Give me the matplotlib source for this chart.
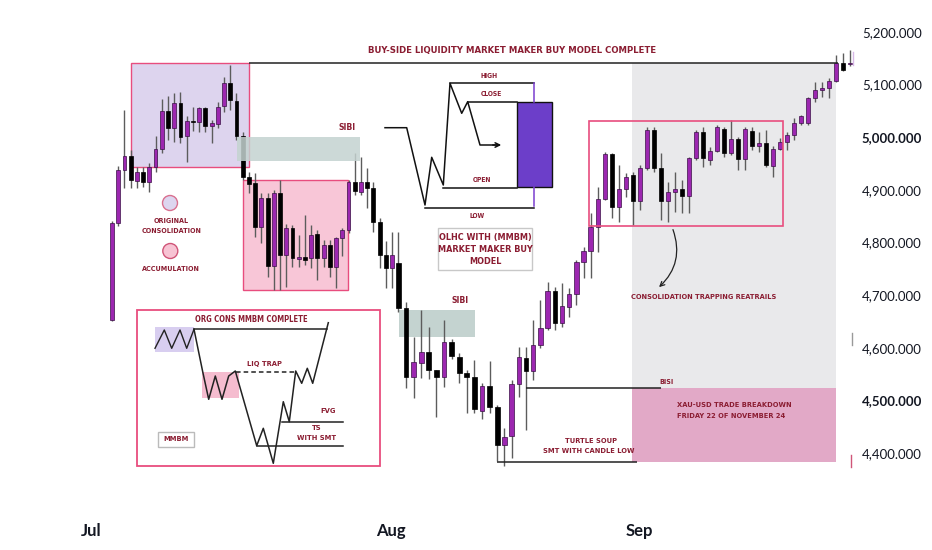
import os
import numpy as np
import matplotlib
matplotlib.use("Agg")
import matplotlib.pyplot as plt
from matplotlib import font_manager as fm
from matplotlib.patches import Rectangle, Circle, FancyArrowPatch
from matplotlib.ticker import NullLocator

# ---------------- data ----------------
opens = [4653, 4837, 4938, 4964, 4917, 4934, 4915, 4944, 4978, 5050,
         5018, 5065, 5002, 5031, 5029, 5056, 5021, 5025, 5059, 5103,
         5069, 5002, 4925, 4913, 4830, 4885, 4755, 4894, 4776, 4828,
         4769, 4773, 4771, 4816, 4771, 4795, 4753, 4809, 4824, 4915,
         4896, 4915, 4904, 4839, 4776, 4752, 4761, 4676, 4544, 4571,
         4592, 4558, 4544, 4611, 4583, 4552, 4544, 4480, 4527, 4488,
         4415, 4432, 4531, 4581, 4556, 4605, 4638, 4708, 4647, 4678,
         4702, 4763, 4784, 4830, 4883, 4968, 4868, 4902, 4928, 4879,
         4942, 5014, 4942, 4879, 4896, 4902, 4888, 4961, 5010, 4957,
         4974, 5016, 4970, 4997, 4959, 5012, 4983, 4989, 4945, 4978,
         4991, 5004, 5027, 5027, 5075, 5090, 5094, 5107, 5141, 5139]
highs = [4840, 4945, 5052, 4976, 4944, 4944, 4951, 5002, 5073, 5078,
         5084, 5086, 5040, 5058, 5058, 5058, 5033, 5067, 5115, 5137,
         5084, 5010, 4934, 4932, 4894, 4894, 4900, 4919, 4835, 4833,
         4814, 4852, 4833, 4824, 4805, 4805, 4811, 4828, 4919, 4970,
         4963, 4942, 4915, 4847, 4803, 4820, 4820, 4687, 4620, 4672,
         4640, 4558, 4653, 4617, 4590, 4558, 4577, 4533, 4575, 4491,
         4448, 4539, 4601, 4601, 4653, 4691, 4725, 4716, 4723, 4714,
         4767, 4791, 4856, 4906, 4972, 4970, 4947, 4932, 4934, 4947,
         5020, 5020, 4970, 4915, 4934, 4919, 4963, 5014, 5020, 4982,
         5023, 5020, 5033, 5001, 5020, 5020, 5010, 5014, 4983, 4999,
         5010, 5037, 5042, 5077, 5105, 5105, 5113, 5156, 5160, 5166]
lows = [4650, 4832, 4904, 4904, 4904, 4906, 4896, 4934, 4970, 4995,
        4991, 4989, 4953, 5012, 5010, 5010, 4989, 5018, 5048, 5052,
        4995, 4919, 4894, 4811, 4799, 4735, 4710, 4710, 4716, 4753,
        4753, 4757, 4752, 4729, 4753, 4735, 4714, 4774, 4818, 4890,
        4890, 4866, 4820, 4752, 4714, 4714, 4668, 4523, 4505, 4543,
        4541, 4468, 4525, 4579, 4533, 4476, 4476, 4465, 4476, 4385,
        4375, 4391, 4506, 4444, 4539, 4600, 4634, 4634, 4640, 4659,
        4681, 4733, 4733, 4782, 4881, 4847, 4839, 4887, 4833, 4862,
        4938, 4934, 4843, 4839, 4858, 4856, 4856, 4957, 4944, 4947,
        4972, 4963, 4966, 4938, 4938, 4976, 4972, 4944, 4925, 4976,
        4976, 4995, 5023, 5023, 5067, 5077, 5075, 5105, 5126, 5135]
closes = [4837, 4938, 4964, 4919, 4934, 4915, 4944, 4978, 5050, 5018,
          5065, 5001, 5031, 5029, 5056, 5021, 5027, 5058, 5103, 5071,
          5002, 4925, 4911, 4830, 4885, 4755, 4894, 4776, 4828, 4771,
          4773, 4767, 4814, 4771, 4795, 4753, 4809, 4824, 4915, 4898,
          4915, 4904, 4839, 4776, 4752, 4776, 4676, 4544, 4573, 4592,
          4558, 4544, 4611, 4584, 4552, 4544, 4484, 4527, 4488, 4415,
          4430, 4531, 4583, 4556, 4605, 4638, 4708, 4647, 4679, 4702,
          4763, 4784, 4830, 4883, 4968, 4868, 4902, 4925, 4879, 4942,
          5014, 4942, 4879, 4896, 4902, 4888, 4961, 5010, 4961, 4974,
          5020, 4970, 4997, 4959, 5016, 4983, 4989, 4947, 4978, 4991,
          5004, 5027, 5040, 5075, 5090, 5094, 5107, 5141, 5128, 5141]
price_ticks = [4400, 4500, 4600, 4700, 4800, 4900, 5000, 5100, 5200]
bold_ticks = [4500, 5000]
month_labels = ["Jul", "Aug", "Sep"]
month_pos = [-3.4, 44.8, 79.0]   # candle index where the month label sits

# ---------------- fonts ----------------
def find_font(keys):
    files = [f.fname for f in fm.fontManager.ttflist]
    for key in keys:
        for fn in files:
            b = os.path.basename(fn).lower().replace(" ", "").replace("_", "").replace("-", "")
            if key in b:
                return fn
    return None

cond_file = find_font(["dejavusanscondensedbold", "liberationsansnarrowbold",
                       "robotocondensedbold", "notosanscondensedbold",
                       "opensanscondensedbold", "notosanssemicondensedbold"])

def cfont(size):
    if cond_file:
        return fm.FontProperties(fname=cond_file, size=size)
    return fm.FontProperties(family="DejaVu Sans", weight="bold", size=size)

RED = "#8b1d32"
PURPLE = "#9c27b0"
PINK_EDGE = "#e84d7e"

# ---------------- x scale (the screenshot is not evenly spaced) ----------------
anchor_idx = np.array([-100.0, 0.0, 46.0, 59.0, 72.0, 108.0, 300.0])
anchor_px = np.array([112.0 - 622.5, 112.0, 398.3, 497.3, 590.7, 842.7, 842.7 + 1344.0])

def fwd(v):
    return np.interp(v, anchor_idx, anchor_px)

def inv(v):
    return np.interp(v, anchor_px, anchor_idx)

fig = plt.figure(figsize=(9.32, 5.5), dpi=100)
fig.patch.set_facecolor("white")
ax = fig.add_axes([0, 45 / 550, 855 / 932, 505 / 550])
ax.set_xscale("function", functions=(fwd, inv))
ax.set_xlim(inv(0.0), inv(855.0))
ax.set_ylim(4301.2, 5260.8)
for s in ax.spines.values():
    s.set_visible(False)

o = np.array(opens, float)
h = np.array(highs, float)
l = np.array(lows, float)
c = np.array(closes, float)
x = np.arange(len(o))
up = c >= o

# background zones (data coords)
ax.add_patch(Rectangle((3.05, 4943.5), 22.0 - 3.05, 5141.1 - 4943.5,
                       facecolor="#ddd4ee", edgecolor=PINK_EDGE, lw=1.0, zorder=1))
ax.add_patch(Rectangle((21.08, 4709.8), 37.95 - 21.08, 4918.8 - 4709.8,
                       facecolor="#f8c6d7", edgecolor=PINK_EDGE, lw=1.0, zorder=1))
ax.add_patch(Rectangle((77.86, 4523.0), 107.04 - 77.86, 5141.1 - 4523.0,
                       facecolor="#e9e9eb", edgecolor="none", zorder=0.5))
ax.add_patch(Rectangle((77.86, 4382.4), 107.04 - 77.86, 4523.0 - 4382.4,
                       facecolor="#e2a9c7", edgecolor="none", zorder=0.6))
ax.add_patch(Rectangle((46.1, 4619.9), 56.04 - 46.1, 4671.8 - 4619.9,
                       facecolor="#c4d3d0", edgecolor="none", zorder=1.5))

# candles
ax.vlines(x, l, h, color="#5c5c5c", lw=1.0, zorder=3)
body_lo = np.minimum(o, c)
body_h = np.maximum(np.abs(c - o), 2.5)
ax.bar(x, body_h, bottom=body_lo, width=0.62,
       color=np.where(up, PURPLE, "#000000"),
       edgecolor=np.where(up, "#3a1046", "#000000"), linewidth=0.5, zorder=4)

# overlays tied to price levels
ax.add_patch(Rectangle((20.05, 4954.9), 39.8 - 20.05, 5000.5 - 4954.9,
                       facecolor="#c4d3d0", edgecolor="none", alpha=0.85, zorder=5))
ax.add_patch(Rectangle((71.76, 4831.9), 99.51 - 71.76, 5030.9 - 4831.9,
                       facecolor="none", edgecolor=PINK_EDGE, lw=1.2, zorder=5))
ax.hlines(5141.1, 22.0, 107.3, color="#222222", lw=1.1, zorder=5)
ax.hlines(4383.5, 59.0, 78.57, color="#222222", lw=1.1, zorder=5)
ax.hlines(4523.0, 63.0, 82.04, color="#222222", lw=1.1, zorder=5)

# axes ticks
ax.yaxis.tick_right()
ax.set_yticks(price_ticks, labels=[f"{v:,.3f}" for v in price_ticks])
ax.tick_params(axis="y", length=0, pad=5, labelsize=9.5, labelcolor="#131722")
for lab, v in zip(ax.get_yticklabels(), price_ticks):
    lab.set_fontfamily("Lato")
    if v in bold_ticks:
        lab.set_fontweight("bold")
ax.set_xticks(month_pos, labels=month_labels)
ax.xaxis.set_minor_locator(NullLocator())
ax.tick_params(axis="x", length=0, pad=13, labelsize=12, labelcolor="#131722")
for lab in ax.get_xticklabels():
    lab.set_fontfamily("Lato")
    lab.set_fontweight("bold")

# ---------------- annotation layer (pixel coords) ----------------
ov = fig.add_axes([0, 0, 1, 1], zorder=5)
ov.set_xlim(0, 932)
ov.set_ylim(550, 0)
ov.axis("off")
ov.patch.set_alpha(0)

def t(xx, yy, s, size, ha="center", va="center", color=RED):
    ov.text(xx, yy, s, fontproperties=cfont(size), color=color, ha=ha, va=va)

t(512.5, 51, "BUY-SIDE LIQUIDITY MARKET MAKER BUY MODEL COMPLETE", 6.8)
t(347, 127, "SIBI", 6.2)
t(460, 300.5, "SIBI", 6.2)

# legend circles
ov.add_patch(Circle((170, 203), 7.5, facecolor="#ddd5ef", edgecolor="#d9708f", lw=1))
ov.add_patch(Circle((170.3, 251), 7.5, facecolor="#f7c3d3", edgecolor="#d05578", lw=1))
t(171.5, 221, "ORIGINAL", 5.1)
t(171.5, 231, "CONSOLIDATION", 5.1)
t(171, 269, "ACCUMULATION", 5.1)

# OLHC schematic
px_ = [385, 406.7, 425, 431.7, 443.3, 450, 461.7, 467.7, 480, 498]
py_ = [127.7, 127.7, 205, 157.3, 185, 83.3, 113.3, 101.7, 145, 145]
ov.plot(px_, py_, color="#111111", lw=1.1)
ov.add_patch(FancyArrowPatch((490, 145), (504, 145), arrowstyle="->", mutation_scale=8,
                             color="#111111", lw=1.1))
ov.plot([450, 534.3], [83.3, 83.3], color="#111111", lw=1.1)
ov.plot([467.7, 517.3], [101.7, 101.7], color="#111111", lw=1.1)
ov.plot([443.3, 517.3], [188.3, 188.3], color="#111111", lw=1.1)
ov.plot([425, 534.3], [208.3, 208.3], color="#111111", lw=1.1)
ov.plot([534.3, 534.3], [83.3, 102.3], color="#7b3fd0", lw=1.1)
ov.plot([534.3, 534.3], [186.7, 206], color="#7b3fd0", lw=1.1)
ov.add_patch(Rectangle((517.3, 102.3), 35, 84.4, facecolor="#6c3ec9", edgecolor="#111111", lw=1))
t(489.3, 75.7, "HIGH", 4.9)
t(491, 94.5, "CLOSE", 4.9)
t(481.7, 180, "OPEN", 4.9)
t(476.7, 215.5, "LOW", 4.9)
ov.add_patch(Rectangle((438.3, 228.3), 94, 41.7, facecolor="white", edgecolor="#c8c8c8", lw=1))
t(485, 237.3, "OLHC WITH (MMBM)", 6.5)
t(485, 249.3, "MARKET MAKER BUY", 6.5)
t(485, 262.0, "MODEL", 6.5)

# MMBM inset
ov.add_patch(Rectangle((136.7, 310), 243.3, 156, facecolor="white", edgecolor=PINK_EDGE, lw=1.3))
t(251, 320, "ORG CONS MMBM COMPLETE", 5.5)
ov.add_patch(Rectangle((155, 326.7), 39, 25, facecolor="#d8cef0", edgecolor="none"))
ov.add_patch(Rectangle((201.7, 371.7), 37.6, 26.6, facecolor="#f5bccf", edgecolor="none"))
ov.plot([155, 164.3, 171.7, 180, 186.7, 194], [348.3, 330, 348.3, 330, 348.3, 329.3],
        color="#222222", lw=1)
ov.plot([194, 326.7], [329.3, 329.3], color="#222222", lw=1.1)
mx = [194, 202.7, 208.7, 215.3, 222, 228.7, 235.3, 256.7, 263.3, 273.3, 283.3, 289.3,
      295.7, 301.7, 307.3, 312.7, 328.3]
my = [329.3, 371.7, 399.3, 376, 399.3, 376, 371, 445.7, 428.3, 463.3, 401.7, 421.7,
      371, 383.3, 368.3, 383.3, 322.7]
ov.plot(mx, my, color="#222222", lw=1.1)
ov.plot([236, 295.7], [371.7, 371.7], color="#222222", lw=1.1, ls=(0, (3, 2)))
t(264.3, 364, "LIQ TRAP", 5.4)
ov.plot([281.7, 343.3], [421.7, 421.7], color="#222222", lw=1.1)
t(328.3, 410.7, "FVG", 5.4)
ov.plot([256.7, 343.3], [445.7, 445.7], color="#222222", lw=1.1)
t(316.7, 427.7, "TS", 5.4)
t(316.7, 438.3, "WITH SMT", 5.4)
ov.add_patch(Rectangle((158.3, 431.7), 35.7, 15, facecolor="white", edgecolor="#bbbbbb", lw=1))
t(176, 439.2, "MMBM", 5.4)

# right side labels
ov.add_patch(FancyArrowPatch((672, 227), (657, 289), connectionstyle="arc3,rad=-0.35",
                             arrowstyle="->", mutation_scale=8, color="#222222", lw=0.9))
t(704, 297, "CONSOLIDATION TRAPPING REATRAILS", 5.3)
t(666, 381.5, "BISI", 5.0)
t(677.3, 405, "XAU-USD TRADE BREAKDOWN", 5.4, ha="left")
t(677.3, 415.5, "FRIDAY 22 OF NOVEMBER 24", 5.4, ha="left")
t(591, 440.7, "TURTLE SOUP", 5.4)
t(589, 451, "SMT WITH CANDLE LOW", 5.4)

# small price-scale marks
ov.plot([852, 852], [333, 345], color="#999999", lw=1)
ov.plot([851, 851], [455, 467], color="#d05578", lw=1)
ov.plot([852.7, 852.7], [52, 65], color="#d7b8e6", lw=1)

fig.savefig("out.png", dpi=100, facecolor="white")
